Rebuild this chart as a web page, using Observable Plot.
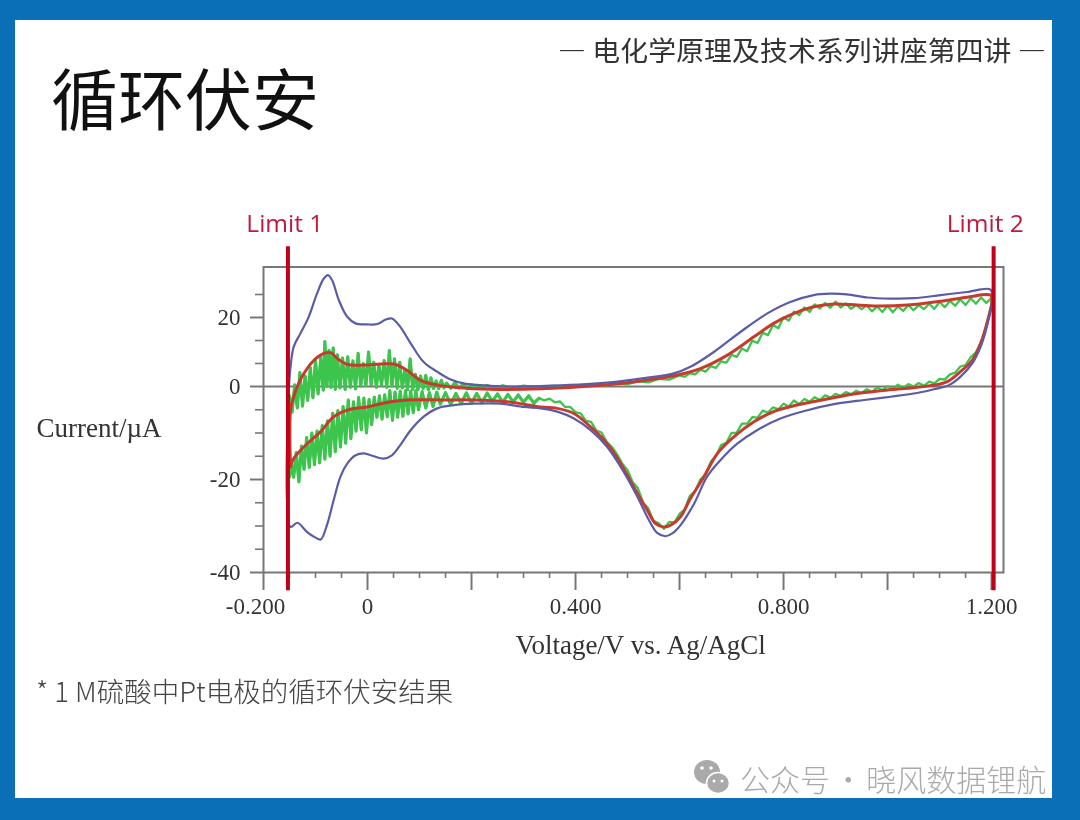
<!DOCTYPE html>
<html lang="zh">
<head>
<meta charset="utf-8">
<script src="https://cdn.jsdelivr.net/npm/d3@7"></script>
<script src="https://cdn.jsdelivr.net/npm/@observablehq/plot@0.6"></script>
<style>
html,body{margin:0;padding:0;width:1080px;height:820px;overflow:hidden;background:#0b6fb8;}
#panel{position:absolute;left:15px;top:20px;width:1037px;height:778px;background:#fff;}
#chart{position:absolute;left:0;top:0;filter:blur(0.5px);}
.t{position:absolute;white-space:nowrap;font-family:"Noto Sans CJK SC","Noto Sans",sans-serif;line-height:1;filter:blur(0.4px);}
#title{left:51px;top:62px;font-size:67px;font-weight:400;color:#111;}
#head{left:558px;top:36px;font-size:27.8px;letter-spacing:0.15px;color:#333;}
#note{left:36px;top:677px;font-size:27.5px;color:#444;font-weight:300;}
#mark{left:740px;top:763px;font-size:30px;word-spacing:-3.5px;color:#aaa;font-weight:300;}
#icon{position:absolute;left:692px;top:758px;}
</style>
</head>
<body>
<div id="panel"></div>
<div id="chart"></div>
<div class="t" id="title">循环伏安</div>
<div class="t" id="head">— 电化学原理及技术系列讲座第四讲 —</div>
<div class="t" id="note">* 1 M硫酸中Pt电极的循环伏安结果</div>
<svg id="icon" width="40" height="38"><ellipse cx="15" cy="14" rx="13" ry="12" fill="#aaa"/><ellipse cx="26" cy="25" rx="11.5" ry="10.5" fill="#aaa" stroke="#fff" stroke-width="1.5"/><circle cx="10" cy="10" r="1.8" fill="#fff"/><circle cx="19" cy="10" r="1.8" fill="#fff"/><circle cx="22" cy="23" r="1.5" fill="#fff"/><circle cx="30" cy="23" r="1.5" fill="#fff"/></svg>
<div class="t" id="mark">公众号 · 晓风数据锂航</div>
<script>
const xTicksMajor = [-0.2, 0, 0.2, 0.4, 0.6, 0.8, 1.0, 1.2];
const xTicksMinor = [-0.15,-0.1,-0.05,0.05,0.1,0.15,0.25,0.3,0.35,0.45,0.5,0.55,0.65,0.7,0.75,0.85,0.9,0.95,1.05,1.1,1.15];
const xLabelsShown = [0, 0.4, 0.8, 1.2];
const xLabelsOffset = [-0.2];
const yTicksLabelled = [-40, -20, 0, 20];
const yTicksMinor = [26.67, 13.33, 6.67, -5, -10, -15, -25, -30, -35];
const limitV = [-0.153, 1.204];
const limitLabels = [{v:-0.159, text:"Limit 1"},{v:1.188, text:"Limit 2"}];

const blueCycle = [[-0.151,0],[-0.148,5.7],[-0.142,11.5],[-0.129,15.4],[-0.113,20.2],[-0.097,27.0],[-0.084,31.3],[-0.076,32.3],[-0.068,30.8],[-0.055,25.0],[-0.039,20.2],[-0.023,18.3],[-0.001,18.0],[0.019,18.1],[0.035,19.4],[0.047,19.7],[0.063,17.3],[0.083,12.5],[0.108,7.1],[0.134,4.3],[0.160,2.0],[0.185,0.9],[0.217,0.4],[0.269,0],[0.333,0.1],[0.461,1.1],[0.525,2.3],[0.589,3.8],[0.621,5.7],[0.666,10.0],[0.717,15.8],[0.769,21.2],[0.813,24.5],[0.858,26.5],[0.890,26.9],[0.922,26.7],[0.961,25.8],[1.006,25.5],[1.051,25.6],[1.102,26.5],[1.153,27.4],[1.198,28.1],[1.201,25.0],[1.191,17.3],[1.179,11.5],[1.163,6.7],[1.140,2.8],[1.118,0.4],[1.089,-0.6],[1.057,-1.4],[1.006,-2.2],[0.955,-2.9],[0.897,-3.8],[0.846,-5.1],[0.794,-6.9],[0.749,-9.4],[0.711,-12.3],[0.679,-15.8],[0.653,-19.4],[0.628,-25.2],[0.602,-29.8],[0.586,-31.6],[0.573,-32.2],[0.557,-31.5],[0.541,-28.7],[0.519,-23.7],[0.493,-18.4],[0.461,-13.0],[0.429,-9.4],[0.397,-6.9],[0.365,-5.4],[0.333,-4.7],[0.301,-4.4],[0.256,-3.7],[0.204,-3.7],[0.166,-4.0],[0.134,-4.7],[0.108,-6.5],[0.083,-9.4],[0.063,-12.6],[0.047,-14.8],[0.031,-15.5],[0.012,-15.0],[-0.007,-14.4],[-0.023,-14.8],[-0.039,-16.6],[-0.052,-19.4],[-0.065,-24.4],[-0.078,-29.8],[-0.090,-32.9],[-0.100,-32.5],[-0.116,-31.3],[-0.135,-29.3],[-0.148,-30.2],[-0.151,0]];

const redCycle = [[-0.148,-17.3],[-0.148,-5.1],[-0.142,-2.2],[-0.126,2.8],[-0.103,7.6],[-0.084,9.6],[-0.071,9.8],[-0.058,8.1],[-0.039,6.4],[-0.007,6.2],[0.025,6.5],[0.051,6.5],[0.076,4.7],[0.102,1.8],[0.134,0.4],[0.172,-0.2],[0.237,-0.6],[0.333,-0.5],[0.461,0.5],[0.525,1.6],[0.589,3.1],[0.640,5.2],[0.692,9.1],[0.743,14.4],[0.781,18.3],[0.820,21.2],[0.858,23.1],[0.897,23.9],[0.942,23.6],[0.986,23.3],[1.038,23.6],[1.102,24.7],[1.153,25.9],[1.198,26.5],[1.201,25.0],[1.191,18.3],[1.179,12.5],[1.163,7.6],[1.140,4.3],[1.115,1.4],[1.089,0.4],[1.038,-0.4],[0.986,-0.9],[0.935,-1.6],[0.884,-2.7],[0.833,-3.8],[0.781,-5.4],[0.743,-7.6],[0.705,-10.8],[0.673,-14.4],[0.647,-19.4],[0.621,-24.1],[0.602,-28.0],[0.583,-29.8],[0.570,-30.2],[0.554,-29.5],[0.538,-26.6],[0.512,-21.6],[0.487,-16.6],[0.461,-12.3],[0.429,-8.7],[0.397,-5.8],[0.365,-4.7],[0.333,-4.4],[0.269,-3.3],[0.204,-2.9],[0.140,-2.9],[0.076,-2.9],[0.044,-3.3],[-0.001,-4.4],[-0.033,-4.9],[-0.065,-6.5],[-0.090,-9.7],[-0.116,-12.3],[-0.142,-15.5],[-0.148,-17.3]];

const greenUpperLeft = [[-0.150,-2.0],[-0.145,-5.5],[-0.140,0.5],[-0.135,-4.6],[-0.130,4.0],[-0.125,-4.2],[-0.120,3.0],[-0.115,-3.0],[-0.110,5.5],[-0.105,-2.4],[-0.100,7.5],[-0.095,-1.6],[-0.090,8.5],[-0.085,-0.8],[-0.082,13.0],[-0.078,0.0],[-0.074,10.5],[-0.070,-0.2],[-0.066,11.2],[-0.062,-0.6],[-0.058,9.2],[-0.053,-0.3],[-0.048,8.2],[-0.043,-0.6],[-0.038,8.6],[-0.033,-0.2],[-0.028,7.4],[-0.023,-0.5],[-0.018,9.6],[-0.013,0.1],[-0.008,6.6],[-0.003,0.3],[0.002,10.0],[0.007,0.5],[0.012,7.0],[0.017,-0.2],[0.022,6.2],[0.027,0.4],[0.032,7.5],[0.037,-0.2],[0.042,10.4],[0.047,0.1],[0.052,8.0],[0.057,-0.4],[0.062,7.0],[0.067,-0.3],[0.072,5.0],[0.077,-0.7],[0.082,8.0],[0.087,-0.6],[0.092,3.5],[0.097,-0.7],[0.102,3.0],[0.107,-0.4],[0.112,3.2],[0.117,-0.7],[0.122,2.5],[0.127,-0.4],[0.132,1.6],[0.137,-0.5],[0.142,1.8],[0.147,-0.3],[0.152,1.0],[0.160,-0.4],[0.168,1.1],[0.176,-0.3],[0.184,0.7],[0.192,-0.5],[0.200,0.5],[0.215,-0.4],[0.23,0.3],[0.245,-0.5],[0.26,0.2],[0.28,-0.4],[0.30,0.1],[0.32,-0.2]];

const greenUpperRight = [[0.34,0.0],[0.36,0.2],[0.38,-0.1],[0.40,0.3],[0.42,0.1],[0.44,0.5],[0.46,0.3],[0.48,0.9],[0.50,0.7],[0.52,1.5],[0.54,1.2],[0.56,2.2],[0.58,2.0],[0.60,3.2],[0.61,2.8],[0.62,3.9],[0.63,3.5],[0.64,4.9],[0.65,4.3],[0.66,5.9],[0.67,5.4],[0.68,7.3],[0.69,6.9],[0.70,9.2],[0.71,8.6],[0.72,11.0],[0.73,10.2],[0.74,13.3],[0.75,12.6],[0.76,15.6],[0.77,14.9],[0.78,17.8],[0.79,16.9],[0.80,20.0],[0.81,19.1],[0.82,21.7],[0.83,20.7],[0.84,22.9],[0.85,21.6],[0.86,23.8],[0.87,22.6],[0.88,24.2],[0.89,22.8],[0.90,24.6],[0.91,22.9],[0.92,24.1],[0.93,22.5],[0.94,23.6],[0.95,22.4],[0.96,23.5],[0.97,21.8],[0.98,23.2],[0.99,21.6],[1.00,23.4],[1.01,21.5],[1.02,23.2],[1.03,21.9],[1.04,23.6],[1.05,22.1],[1.06,23.6],[1.07,22.4],[1.08,24.0],[1.09,22.5],[1.10,24.5],[1.11,23.0],[1.12,24.8],[1.13,23.4],[1.14,25.2],[1.15,23.6],[1.16,25.6],[1.17,24.0],[1.18,25.8],[1.19,24.2],[1.20,25.7]];

const greenLowerRight = [[1.20,24],[1.19,17.5],[1.18,12.8],[1.17,9.9],[1.16,8.5],[1.15,6.2],[1.14,5.8],[1.13,4.0],[1.12,3.5],[1.11,2.0],[1.10,2.2],[1.09,0.9],[1.08,1.4],[1.07,0.2],[1.06,1.0],[1.05,0.0],[1.04,0.7],[1.03,-0.3],[1.02,0.5],[1.01,-0.5],[1.00,0.1],[0.99,-0.8],[0.98,-0.2],[0.97,-1.2],[0.96,-0.6],[0.95,-1.4],[0.94,-0.9],[0.93,-1.7],[0.92,-1.2],[0.91,-2.0],[0.90,-1.6],[0.89,-2.4],[0.88,-1.9],[0.87,-2.9],[0.86,-2.3],[0.85,-3.3],[0.84,-2.7],[0.83,-3.8],[0.82,-3.0],[0.81,-4.3],[0.80,-3.7],[0.79,-4.9],[0.78,-4.5],[0.77,-5.6],[0.76,-5.2],[0.75,-6.7],[0.74,-6.6],[0.73,-8.0],[0.72,-8.0],[0.71,-9.9],[0.70,-10.0],[0.69,-12.1],[0.68,-12.6],[0.67,-15.0],[0.66,-16.2],[0.65,-18.9],[0.64,-20.0],[0.63,-22.5],[0.62,-23.5],[0.61,-26.4],[0.60,-27.4],[0.59,-29.3],[0.58,-29.1],[0.57,-30.6],[0.56,-29.4],[0.55,-28.9],[0.54,-26.2],[0.53,-25.0],[0.52,-21.9],[0.51,-20.6],[0.50,-18.0],[0.49,-16.6],[0.48,-14.6],[0.47,-13.0],[0.46,-11.9],[0.45,-9.9],[0.44,-9.5],[0.43,-7.6],[0.42,-7.4],[0.41,-5.8],[0.40,-5.5],[0.39,-4.4],[0.38,-4.4],[0.37,-3.2],[0.36,-3.4],[0.35,-2.6],[0.34,-3.0]];

const greenLowerLeft = [[0.33,-2.5],[0.32,-3.6],[0.31,-2.0],[0.30,-3.4],[0.29,-1.8],[0.28,-3.3],[0.27,-1.7],[0.26,-3.4],[0.25,-1.6],[0.24,-3.2],[0.23,-1.4],[0.22,-3.5],[0.21,-1.5],[0.20,-3.6],[0.19,-1.4],[0.18,-3.7],[0.17,-1.5],[0.16,-3.9],[0.15,-1.3],[0.14,-3.8],[0.133,-1.2],[0.126,-4.3],[0.119,-1.3],[0.112,-4.6],[0.105,-1.1],[0.098,-5.0],[0.093,-0.9],[0.088,-5.6],[0.083,-1.0],[0.078,-5.9],[0.073,-0.9],[0.068,-6.4],[0.063,-1.0],[0.058,-6.6],[0.053,-1.2],[0.048,-7.3],[0.043,-0.9],[0.038,-6.5],[0.033,-1.8],[0.028,-7.0],[0.023,-2.0],[0.018,-6.6],[0.013,-2.3],[0.008,-8.2],[0.003,-2.8],[-0.002,-10.0],[-0.007,-2.5],[-0.012,-9.3],[-0.017,-2.4],[-0.022,-9.6],[-0.027,-3.3],[-0.032,-11.2],[-0.037,-2.9],[-0.042,-12.2],[-0.047,-4.3],[-0.052,-13.0],[-0.057,-5.2],[-0.062,-14.0],[-0.067,-5.8],[-0.072,-15.0],[-0.077,-7.4],[-0.082,-15.6],[-0.087,-8.4],[-0.092,-16.4],[-0.097,-9.6],[-0.102,-16.8],[-0.107,-10.0],[-0.112,-17.4],[-0.117,-11.0],[-0.122,-17.8],[-0.127,-12.8],[-0.132,-20.5],[-0.137,-14.2],[-0.142,-19.5],[-0.147,-16.5],[-0.150,-19.5]];

const greenCycle = [...greenUpperLeft, ...greenUpperRight, ...greenLowerRight, ...greenLowerLeft];
const serif = "Liberation Serif";
const axisInk = "#777";
const line = (d, stroke, strokeWidth, curve = "linear") => Plot.line(d, {x: p => p[0], y: p => p[1], stroke, strokeWidth, curve});

const plot = Plot.plot({
  width: 1080, height: 820,
  marginLeft: 263, marginRight: 77, marginTop: 266.5, marginBottom: 248,
  style: {background: "transparent", fontFamily: serif},
  x: {domain: [-0.2, 1.223]},
  y: {type: "linear", domain: [-40, -20, 0, 20, 34.64], range: [572, 479, 386, 317, 266.5]},
  marks: [
    Plot.frame({stroke: axisInk, strokeWidth: 2}),
    Plot.ruleY([0], {stroke: axisInk, strokeWidth: 2}),
    Plot.axisX({ticks: xTicksMajor, tickFormat: () => "", tickSize: 18, stroke: axisInk, strokeWidth: 2, label: null}),
    Plot.axisX({ticks: xTicksMinor, tickFormat: () => "", tickSize: 6, stroke: axisInk, strokeWidth: 1.6, label: null}),
    Plot.axisX({ticks: xLabelsShown, tickSize: 0, tickPadding: 25, tickFormat: v => v === 0 ? "0" : d3.format(".3f")(v), fontSize: 23, fill: "#333", label: null}),
    Plot.axisX({ticks: xLabelsOffset, tickSize: 0, tickPadding: 25, dx: -8, tickFormat: v => d3.format(".3f")(v).replace("−", "-"), fontSize: 23, fill: "#333", label: null}),
    Plot.axisY({ticks: yTicksLabelled, tickSize: 13, tickPadding: 10, stroke: axisInk, strokeWidth: 2, fontSize: 23, fill: "#333", label: null, tickFormat: d => String(d)}),
    Plot.axisY({ticks: yTicksMinor, tickSize: 8, tickFormat: () => "", stroke: axisInk, strokeWidth: 1.6, label: null}),
    line(greenCycle, "#3cc44c", 2.3),
    line(greenUpperLeft, "#3cc44c", 3.2),
    line(greenLowerLeft, "#3cc44c", 3.2),
    line(redCycle, "#c93a2e", 3, "catmull-rom"),
    line(blueCycle, "#5b5ca6", 2.2, "catmull-rom"),
    Plot.ruleX(limitV, {y1: -43.9, y2: 40.5, stroke: "#c00018", strokeWidth: 4}),
    Plot.text(limitLabels, {x: "v", text: "text", y: 47, fill: "#c2183c", fontSize: 24.5, fontFamily: "Open Sans"}),
    Plot.text(["Voltage/V vs. Ag/AgCl"], {x: 0.525, frameAnchor: "bottom", dy: 81, text: d => d, fontSize: 27, fill: "#333"}),
    Plot.text(["Current/µA"], {y: -9, frameAnchor: "left", dx: -227, textAnchor: "start", text: d => d, fontSize: 27, fill: "#333"})
  ]
});
document.getElementById("chart").appendChild(plot);
</script>
</body>
</html>
